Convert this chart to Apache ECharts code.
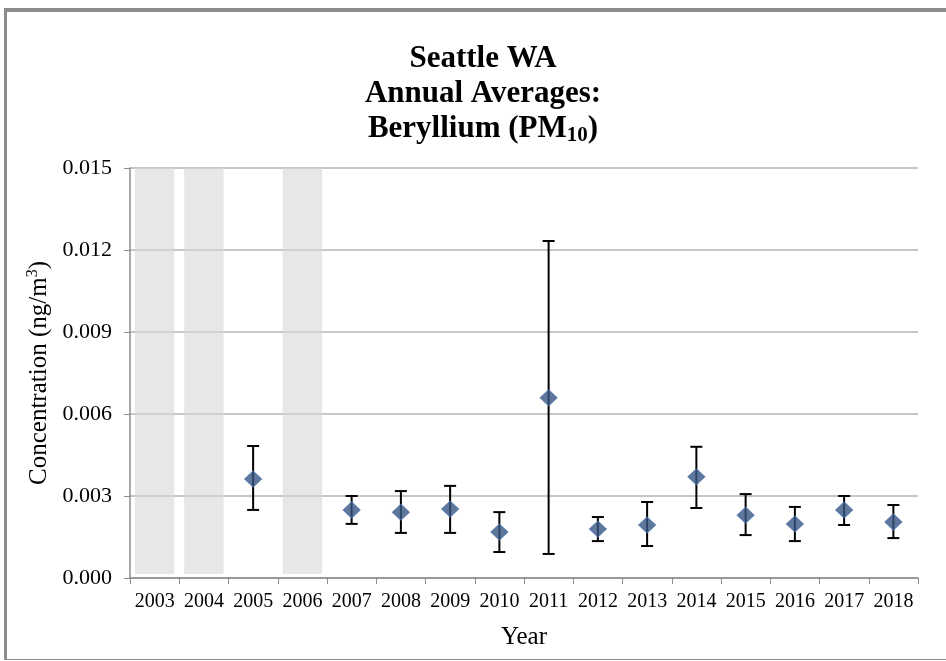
<!DOCTYPE html>
<html>
<head>
<meta charset="utf-8">
<script src="https://cdn.jsdelivr.net/npm/echarts@6/dist/echarts.min.js"></script>
<style>
  html, body { margin: 0; padding: 0; background: #fff; overflow: hidden; }
  #frame { position: absolute; left: 4px; top: 8px; width: 960px; height: 652px; border-top: 4px solid #8c8c8c; border-left: 3px solid #8c8c8c; border-bottom: 1px solid #8c8c8c; box-sizing: border-box; }
  #chart { position: absolute; left: 0; top: 0; width: 946px; height: 661px; }
</style>
</head>
<body>
<div id="frame"></div>
<div id="chart"></div>
<script>
// years on the category axis
const years = ['2003', '2004', '2005', '2006', '2007', '2008', '2009', '2010', '2011', '2012', '2013', '2014', '2015', '2016', '2017', '2018']
// annual averages (ng/m3), null where no data
const means = [null, null, 0.00362, null, 0.00249, 0.00241, 0.00252, 0.00168, 0.00659, 0.00179, 0.00194, 0.0037, 0.0023, 0.00198, 0.00249, 0.00205]
// 95% confidence interval limits
const upper = [null, null, 0.00483, null, 0.0030, 0.00318, 0.00337, 0.00241, 0.01233, 0.00223, 0.00278, 0.0048, 0.00307, 0.0026, 0.003, 0.00267]
const lower = [null, null, 0.00249, null, 0.00198, 0.00165, 0.00165, 0.00095, 0.00088, 0.00135, 0.00117, 0.00256, 0.00157, 0.00135, 0.00194, 0.00146]
// years without sampling (shaded)
const noData = [0.015, 0.015, null, 0.015, null, null, null, null, null, null, null, null, null, null, null, null]
const yTicks = ['0.000', '0.003', '0.006', '0.009', '0.012', '0.015']

const chart = echarts.init(document.getElementById('chart'))
const serif = '"Liberation Serif", "Times New Roman", serif'

const errData = years.map((y, i) => [i, lower[i], upper[i]]).filter(d => d[1] != null)

const option = {
  animation: false,
  title: {
    text: 'Seattle WA\nAnnual Averages:\nBeryllium (PM{sub|10})',
    left: 478,
    textAlign: 'center',
    top: 36,
    textStyle: {
      fontFamily: serif,
      fontWeight: 'bold',
      fontSize: 31,
      color: '#000',
      lineHeight: 35,
      rich: {
        sub: { fontFamily: serif, fontWeight: 'bold', fontSize: 21, color: '#000', verticalAlign: 'bottom', padding: [15, 0, 0, 0] }
      }
    }
  },
  grid: { left: 130, right: 28, top: 168, bottom: 83 },
  xAxis: {
    type: 'category',
    data: years,
    name: 'Year',
    nameLocation: 'middle',
    nameGap: 47,
    nameTextStyle: { fontFamily: serif, fontSize: 25, color: '#000' },
    axisLine: { lineStyle: { color: '#8c8c8c', width: 1.5 } },
    axisTick: { show: true, length: 6, lineStyle: { color: '#8c8c8c' } },
    axisLabel: { fontFamily: serif, fontSize: 20, color: '#000', margin: 14, interval: 0 }
  },
  yAxis: {
    type: 'value',
    min: 0,
    max: 0.015,
    interval: 0.003,
    name: 'Concentration (ng/m{sup|3})',
    nameLocation: 'middle',
    nameGap: 77,
    nameTextStyle: {
      fontFamily: serif, fontSize: 25, color: '#000',
      rich: { sup: { fontFamily: serif, fontSize: 16, color: '#000', verticalAlign: 'top', padding: [0, 0, 12, 0] } }
    },
    axisLine: { show: true, lineStyle: { color: '#8c8c8c', width: 1.5 } },
    axisTick: { show: true, length: 6, lineStyle: { color: '#8c8c8c' } },
    splitLine: { lineStyle: { color: '#b4b4b4', width: 1.5 } },
    axisLabel: {
      fontFamily: serif, fontSize: 22, color: '#000', margin: 18,
      formatter: v => yTicks[Math.round(v / 0.003)]
    }
  },
  series: [
    {
      type: 'bar',
      stack: 'nd',
      data: noData.map(v => v == null ? null : 0.00015),
      itemStyle: { color: 'transparent' },
      barWidth: '80%',
      silent: true
    },
    {
      type: 'bar',
      stack: 'nd',
      data: noData.map(v => v == null ? null : v - 0.00015),
      itemStyle: { color: '#d7d7d7', opacity: 0.6 },
      barWidth: '80%',
      silent: true
    },
    {
      type: 'custom',
      data: errData,
      z: 5,
      renderItem: function (params, api) {
        const x = api.value(0)
        const lo = api.coord([x, api.value(1)])
        const hi = api.coord([x, api.value(2)])
        const hw = 6
        const style = { stroke: '#000', lineWidth: 2 }
        return {
          type: 'group',
          children: [
            { type: 'line', shape: { x1: lo[0], y1: lo[1], x2: hi[0], y2: hi[1] }, style: style },
            { type: 'line', shape: { x1: lo[0] - hw, y1: lo[1], x2: lo[0] + hw, y2: lo[1] }, style: style },
            { type: 'line', shape: { x1: hi[0] - hw, y1: hi[1], x2: hi[0] + hw, y2: hi[1] }, style: style }
          ]
        }
      }
    },
    {
      type: 'scatter',
      data: means,
      symbol: 'diamond',
      symbolSize: [17, 16],
      z: 10,
      itemStyle: { color: '#385583', borderColor: '#4c70a8', borderWidth: 1 }
    }
  ]
}
chart.setOption(option)
</script>
</body>
</html>
